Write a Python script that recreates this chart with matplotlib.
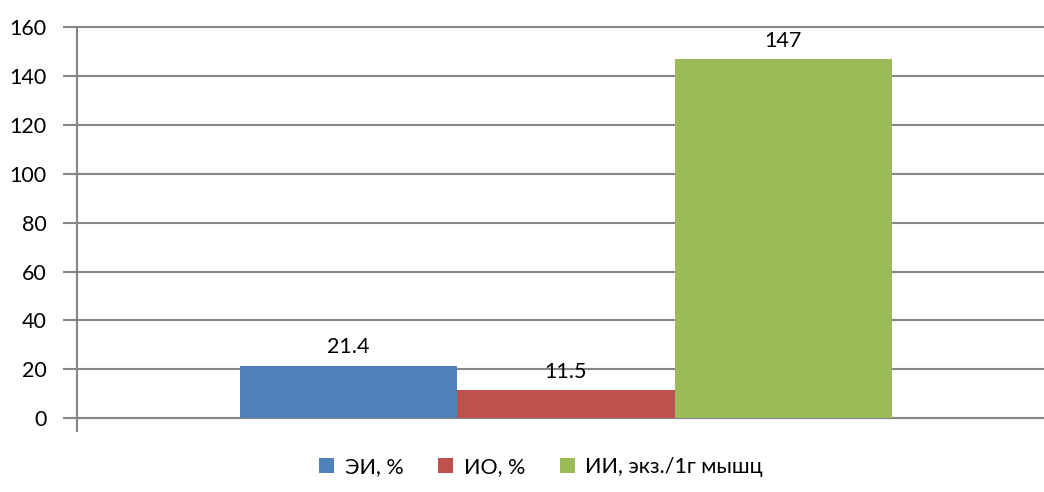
import matplotlib
matplotlib.use("Agg")
import matplotlib.pyplot as plt
from matplotlib.patches import Patch

series = ["ЭИ, %", "ИО, %", "ИИ, экз./1г мышц"]
values = [21.4, 11.5, 147]
labels = ["21.4", "11.5", "147"]
colors = ["#4F81BD", "#C0504D", "#9BBB59"]
yticks = [0, 20, 40, 60, 80, 100, 120, 140, 160]

plt.rcParams["font.family"] = ["Lato", "DejaVu Sans"]
FS = 15.5

W, H = 1044, 492
fig = plt.figure(figsize=(W / 100, H / 100), dpi=100)
left, right, top, bottom = 77, 1055, 27.5, 418
ax = fig.add_axes([left / W, 1 - bottom / H, (right - left) / W, (bottom - top) / H])

bar_w = 0.2
offsets = [-bar_w, 0, bar_w]
for off, v, c, lab in zip(offsets, values, colors, labels):
    ax.bar(off, v, width=bar_w, color=c, zorder=3)
    ax.annotate(lab, (off, v), xytext=(0, 6), textcoords="offset points",
                ha="center", va="bottom", fontsize=FS, color="black")

ax.set_xlim(-0.45, 0.45)
ax.set_ylim(0, 160)
ax.set_yticks(yticks)
ax.set_yticklabels([str(t) for t in yticks], fontsize=FS)
ax.set_xticks([-0.45, 0.45])
ax.set_xticklabels([])
ax.tick_params(axis="y", length=10, width=1.5, color="#868686", pad=12)
ax.tick_params(axis="x", length=10, width=1.5, color="#868686")
ax.yaxis.grid(True, color="#868686", linewidth=1.5, zorder=0)
for gl in ax.yaxis.get_gridlines():
    gl.set_clip_on(False)
for s in ["top", "right"]:
    ax.spines[s].set_visible(False)
for s in ["left", "bottom"]:
    ax.spines[s].set_color("#868686")
    ax.spines[s].set_linewidth(1.5)

handles = [Patch(facecolor=c, label=s) for c, s in zip(colors, series)]
fig.legend(handles=handles, loc="center", bbox_to_anchor=(541 / W, 1 - 467 / H),
           ncol=3, frameon=False, fontsize=FS, handlelength=0.7, handleheight=0.7,
           handletextpad=0.5, columnspacing=1.6)

fig.savefig("out.png", dpi=100)
